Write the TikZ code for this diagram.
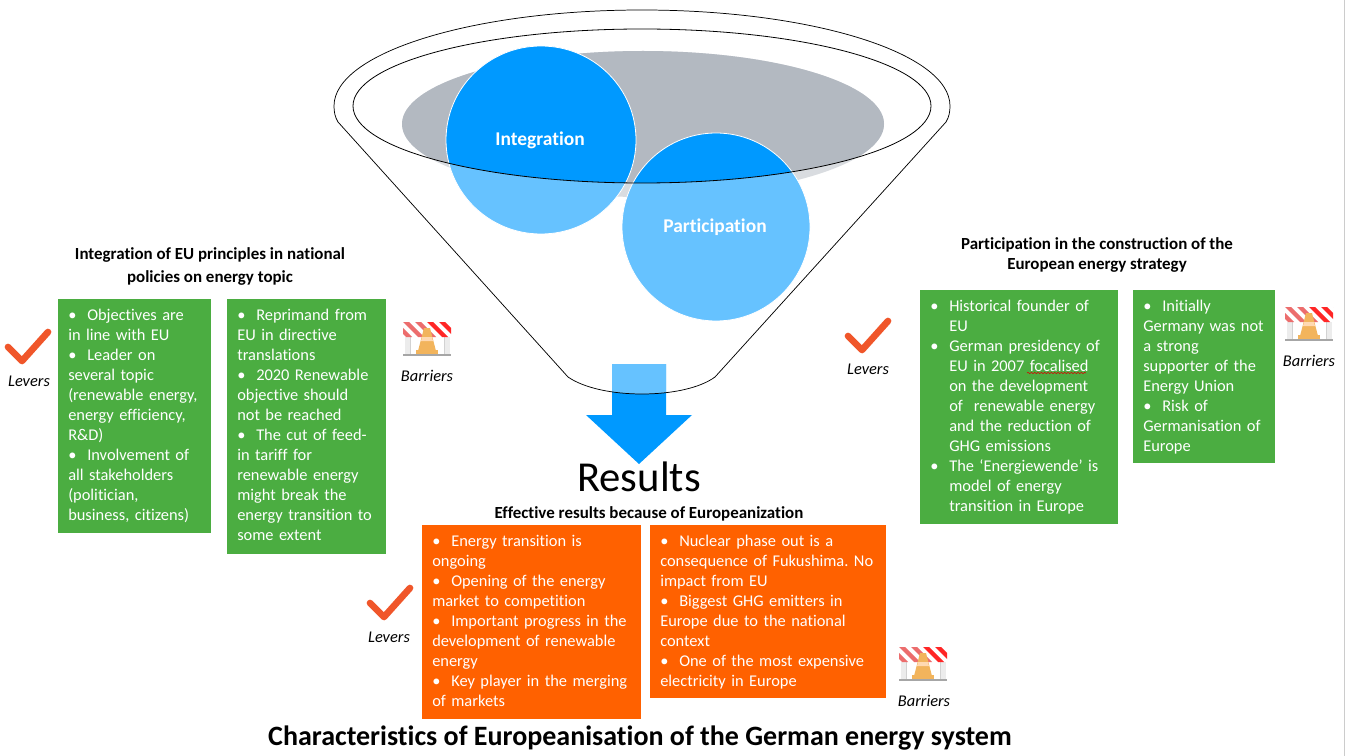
\documentclass[tikz,border=0pt]{standalone}
\usepackage{fontspec}
\setmainfont{Carlito}[Ligatures=NoCommon]
\usetikzlibrary{decorations.pathmorphing}
\definecolor{gboxc}{HTML}{4BAD41}
\definecolor{oboxc}{HTML}{FF6100}
\definecolor{bluefull}{HTML}{0099FF}
\definecolor{bluelight}{HTML}{66C2FF}
\definecolor{grayfull}{HTML}{B3B9C1}
\definecolor{graylight}{HTML}{D9DCE0}
\definecolor{checkc}{HTML}{F0562A}
\definecolor{conec}{HTML}{F2B45C}
\newcommand{\bl}{\makebox[14.25pt][l]{•}}
\newcommand{\hg}{\hspace*{14.25pt}}
\newcommand{\funnelpath}{(338,122) .. controls (335,117) and (334,112) .. (334,106) .. controls (334,53) and (472,10) .. (642,10) .. controls (812,10) and (950,53) .. (950,106) .. controls (950,112) and (949,117) .. (946,122) -- (715,377) .. controls (700,388) and (672,394) .. (642,394) .. controls (612,394) and (584,388) .. (568,377) -- cycle}
\tikzset{
  x=0.75pt,y=-0.75pt,
  box/.style={anchor=north west,inner xsep=7.5pt,inner ysep=0pt,align=left,text=white,font=\fontsize{12.3}{15}\selectfont\frenchspacing},
  greenbox/.style={box,fill=gboxc},
  orangebox/.style={box,fill=oboxc},
  heading/.style={font=\bfseries\fontsize{12.7}{17.25}\selectfont,align=center,inner sep=0pt},
  iconlabel/.style={font=\itshape\fontsize{12.3}{14}\selectfont,inner sep=0pt},
  circlelabel/.style={font=\bfseries\fontsize{14.6}{16}\selectfont,text=white,inner sep=0pt},
  check/.pic={
    \draw[checkc,line width=5pt,line cap=round,line join=round] (5,20) -- (19,34) -- (45,5);
  },
  barrier/.pic={
    \fill[gray!15] (2,15) rectangle (8,32);
    \fill[gray!15] (41,15) rectangle (47,32);
    \fill[gray!35] (7,15) rectangle (8,32);
    \fill[gray!35] (41,15) rectangle (42,32);
    \begin{scope}
      \clip (0,0) rectangle (48,15);
      \fill[white] (0,0) rectangle (48,15);
      \foreach \i in {-1,0,1}{\fill[red!45!pink!85!gray] (\i*12,0) -- (\i*12+6,0) -- (\i*12+21,15) -- (\i*12+15,15) -- cycle;}
      \foreach \i in {2,3,4}{\fill[red!80!pink] (\i*12,0) -- (\i*12+6,0) -- (\i*12+21,15) -- (\i*12+15,15) -- cycle;}
    \end{scope}
    \fill[conec] (21,6) -- (27,6) -- (33,29) -- (15,29) -- cycle;
    \fill[white!70!orange] (19.2,15) -- (28.8,15) -- (30,19) -- (18,19) -- cycle;
    \fill[conec] (13,28) rectangle (35,32);
    \fill[gray!70] (0,32) rectangle (48,34);
  },
}
\begin{document}
\begin{tikzpicture}
\useasboundingbox (0,0) rectangle (1346,756);
\fill[white] (0,0) rectangle (1346,756);
\draw[gray!40,line width=0.75pt] (1344,0) -- (1344,756);

% shapes seen through the funnel wall
\fill[graylight] (643,124) ellipse [x radius=241,y radius=73];
\fill[bluelight,draw=white,line width=0.6pt] (541,140) ellipse [x radius=95,y radius=94];
\fill[bluelight,draw=white,line width=0.6pt] (716,227) ellipse [x radius=94,y radius=94];
% shapes inside the funnel mouth
\begin{scope}
  \clip (642,106) ellipse [x radius=289,y radius=77];
  \fill[grayfull] (643,124) ellipse [x radius=241,y radius=73];
  \fill[bluefull,draw=white,line width=0.6pt] (541,140) ellipse [x radius=95,y radius=94];
  \fill[bluefull,draw=white,line width=0.6pt] (716,227) ellipse [x radius=94,y radius=94];
\end{scope}

% arrow
\fill[bluefull] (612,364) -- (666,364) -- (666,415) -- (692,415) -- (639,464) -- (586,415) -- (612,415) -- cycle;
\begin{scope}
  \clip \funnelpath;
  \fill[bluelight] (612,364) rectangle (666,400);
\end{scope}

% funnel
\draw[black,line width=0.55pt] \funnelpath;
\draw[black,line width=0.6pt] (642,106) ellipse [x radius=289,y radius=77];

\node[circlelabel] (integ) at (540,140) {Integration};
\node[circlelabel] (partic) at (715,227) {Participation};

% headings
\node[heading] (h1) at (210,266.5) {Integration of EU principles in national\\policies on energy topic};
\node[heading,font=\bfseries\fontsize{12.7}{15}\selectfont] (h2) at (1097,255) {Participation in the construction of the\\European energy strategy};
\node[inner sep=0pt,font=\fontsize{32}{36}\selectfont] (res) at (639,477) {Results};
\node[heading] (h3) at (649,514) {Effective results because of Europeanization};
\node[inner sep=0pt,font=\bfseries\fontsize{21}{24}\selectfont] (title) at (640,738) {Characteristics of Europeanisation of the German energy system};

% boxes
\node[greenbox,text width=99.75pt,minimum height=175.5pt] (g1) at (58,299) {\bl Objectives are\\in line with EU\\\bl Leader on\\several topic\\(renewable energy,\\energy efficiency,\\R\&D)\\\bl Involvement of\\all stakeholders\\(politician,\\business, citizens)};
\node[greenbox,text width=104.25pt,minimum height=191.25pt] (g2) at (227,299) {\bl Reprimand from\\EU in directive\\translations\\\bl 2020 Renewable\\objective should\\not be reached\\\bl The cut of feed-\\in tariff for\\renewable energy\\might break the\\energy transition to\\some extent\rule[-3pt]{0pt}{3pt}};
\node[greenbox,text width=133.5pt,minimum height=175.5pt] (g3) at (920,290) {\bl Historical founder of\\\hg EU\\\bl German presidency of\\\hg EU in 2007 focalised\\\hg on the development\\\hg of\ \ renewable energy\\\hg and the reduction of\\\hg GHG emissions\\\bl The ‘Energiewende’ is\\\hg model of energy\\\hg transition in Europe};
\node[greenbox,text width=91.5pt,minimum height=129.75pt] (g4) at (1133,290) {\bl Initially\\Germany was not\\a strong\\supporter of the\\Energy Union\\\bl Risk of\\Germanisation of\\Europe};
\node[orangebox,text width=149.25pt,minimum height=145.5pt] (o1) at (422,525) {\bl Energy transition is\\ongoing\\\bl Opening of the energy\\market to competition\\\bl Important progress in the\\development of renewable\\energy\\\bl Key player in the merging\\of markets\rule[-1.5pt]{0pt}{1.5pt}};
\node[orangebox,text width=162pt,minimum height=129.75pt] (o2) at (650,525) {\bl Nuclear phase out is a\\consequence of Fukushima. No\\impact from EU\\\bl Biggest GHG emitters in\\Europe due to the national\\context\\\bl One of the most expensive\\electricity in Europe\rule[-1.5pt]{0pt}{1.5pt}};

% spell-check squiggle
\draw[red!85!black,line width=0.4pt,decorate,decoration={snake,amplitude=0.5pt,segment length=2.5pt}] (1027,373) -- (1086,373);

% icons
\pic at (3,327) {check};
\pic at (843,316) {check};
\pic at (365,583) {check};
\pic at (403,322) {barrier};
\pic at (1285,307) {barrier};
\pic at (899,647) {barrier};
\node[iconlabel] (l1) at (29,381) {Levers};
\node[iconlabel] (l2) at (868,369) {Levers};
\node[iconlabel] (l3) at (389,637) {Levers};
\node[iconlabel] (b1) at (427,376) {Barriers};
\node[iconlabel] (b2) at (1309,361) {Barriers};
\node[iconlabel] (b3) at (924,701) {Barriers};
\end{tikzpicture}
\end{document}
